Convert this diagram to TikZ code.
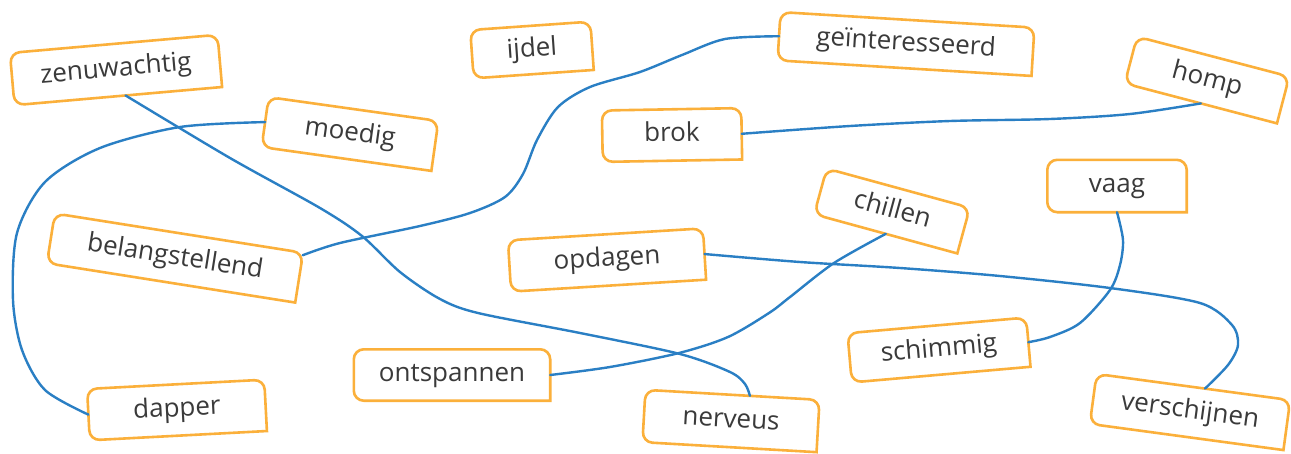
\documentclass[tikz,border=0pt]{standalone}
\usepackage{fontspec}
\setmainfont{Open Sans}
\usetikzlibrary{calc}
\definecolor{boxorange}{HTML}{FBB03B}
\definecolor{linkblue}{HTML}{2A7FC4}
\definecolor{wordgray}{HTML}{3A3A3A}
\tikzset{
  wordnode/.style={inner sep=0pt, text=wordgray, font=\fontsize{26}{30}\selectfont,
    text height=19pt, text depth=6pt, align=center},
  boxline/.style={draw=boxorange, line width=2.6pt, line join=miter},
  link/.style={draw=linkblue, line width=2.4pt, line cap=round},
}
\newcommand\wordbox[7]{%
  \node[wordnode, rotate=#4, minimum width=#5pt, minimum height=#6pt] (#1) at (#2,#3) {#7};
  \draw[boxline] (#1.east) -- (#1.south east) -- (#1.south) [rounded corners=10pt]
     -- (#1.south west) -- (#1.north west) -- (#1.north east) -- cycle;
}
\begin{document}
\begin{tikzpicture}[x=1pt,y=-1pt]
\useasboundingbox (0,0) rectangle (1291,453);
\fill[white] (0,0) rectangle (1291,453);

\wordbox{zen}{116}{70}{5}{208}{52}{zenuwachtig}
\wordbox{moe}{350}{134}{-8}{171}{50}{moedig}
\wordbox{ijd}{532}{50}{4}{120}{48}{ijdel}
\wordbox{gei}{906}{44}{-3.5}{254}{48}{geïnteresseerd}
\wordbox{hom}{1207}{80}{-14.7}{157}{48}{homp}
\wordbox{bro}{672}{135}{1}{139}{51}{brok}
\wordbox{bel}{175}{258}{-9}{251}{50}{belangstellend}
\wordbox{chi}{892}{211}{-15.3}{148}{47}{chillen}
\wordbox{vaa}{1117}{186}{0}{139}{52}{vaag}
\wordbox{opd}{607}{260}{3.5}{195}{51}{opdagen}
\wordbox{ont}{452}{375}{0}{196}{51}{ontspannen}
\wordbox{sch}{939}{350}{5}{179}{49}{schimmig}
\wordbox{dap}{177}{410}{3}{177}{51}{dapper}
\wordbox{ner}{731}{421}{-3.3}{174}{52}{nerveus}
\wordbox{ver}{1190}{412}{-7.7}{195}{50}{verschijnen}

\coordinate (zen-out) at ($(zen.south)!0.07!(zen.south east)$);
\coordinate (ner-in) at ($(ner.north)!0.2!(ner.north east)$);
\coordinate (bel-out) at ($(bel.north east)!0.1!(bel.east)$);
\coordinate (ver-in) at ($(ver.north)!0.12!(ver.north east)$);

\draw[link] plot[smooth, tension=0.5] coordinates {(zen-out) (230,158) (320,208) (362,236) (400,272) (440,299) (478,313) (580,333) (680,354) (730,372) (745,384) (ner-in)};
\draw[link] plot[smooth, tension=0.5] coordinates {(moe.west) (180,127) (100,148) (45,182) (17,233) (13,300) (22,350) (45,390) (dap.west)};
\draw[link] plot[smooth, tension=0.5] coordinates {(bel-out) (340,243) (420,226) (470,213) (505,197) (523,174) (537,140) (558,107) (590,87) (640,72) (682,55) (725,39) (gei.west)};
\draw[link] plot[smooth, tension=0.5] coordinates {(bro.east) (850,126) (950,121) (1050,119) (1130,114) (hom.south)};
\draw[link] plot[smooth, tension=0.5] coordinates {(chi.south) (834,263) (790,297) (769,313) (728,337) (679,353) (610,367) (ont.east)};
\draw[link] plot[smooth, tension=0.5] coordinates {(opd.east) (800,262) (900,268) (1000,276) (1110,288) (1200,303) (1232,325) (1238,345) (1228,365) (ver-in)};
\draw[link] plot[smooth, tension=0.5] coordinates {(vaa.south) (1123,240) (1120,265) (1110,290) (1080,323) (1050,337) (sch.east)};
\end{tikzpicture}
\end{document}
